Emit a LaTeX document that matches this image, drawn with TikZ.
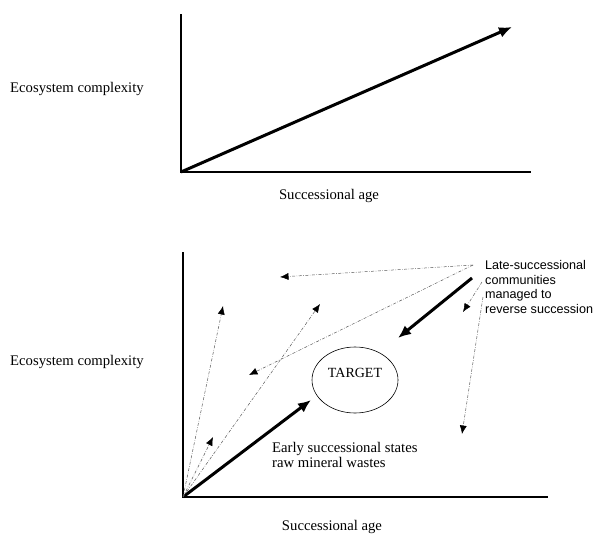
\documentclass[tikz,border=0pt]{standalone}
\usepackage{fontspec}
\setmainfont{Liberation Serif}
\newfontfamily\lsans{Liberation Sans}
\usetikzlibrary{arrows.meta,shapes.geometric}
\tikzset{
  axis/.style={line width=1.6pt, line cap=rect},
  bigarrow/.style={line width=3pt, -{Latex[length=13pt,width=11pt]}},
  thinarrow/.style={line width=0.5pt, draw=black!65, dash pattern=on 3pt off 1.5pt on 0.6pt off 1.5pt,
     -{Latex[length=8.5pt,width=7pt,fill=black,color=black]}},
  lbl/.style={font=\fontsize{14.7}{15}\selectfont, inner sep=0pt},
}
\begin{document}
\begin{tikzpicture}[x=1pt,y=-1pt]
\useasboundingbox (0,0) rectangle (594,533);
% ---------- top panel ----------
\coordinate (o1) at (181,172);
\coordinate (ytop1) at (181,15);
\coordinate (xend1) at (530,172);
\coordinate (tip1) at (512,27);
\draw[axis] (ytop1) -- (o1) -- (xend1);
\draw[bigarrow] (o1) -- (tip1);
\node[lbl, anchor=base west] (ylab1) at (10,92) {Ecosystem complexity};
\node[lbl, anchor=base] (xlab1) at (329,199) {Successional age};
% ---------- bottom panel ----------
\coordinate (o2) at (183,497);
\coordinate (ytop2) at (183,253);
\coordinate (xend2) at (547,497);
\draw[axis] (ytop2) -- (o2) -- (xend2);
\node[lbl, anchor=base west] (ylab2) at (10,365) {Ecosystem complexity};
\node[lbl, anchor=base] (xlab2) at (332,530) {Successional age};
% target
\node[draw, ellipse, line width=0.6pt, minimum width=86pt, minimum height=66pt, inner sep=0pt] (target) at (355,380) {};
\node[font=\fontsize{14}{16}\selectfont, inner sep=0pt] (targetlbl) at ([yshift=7pt]target.center) {TARGET};
% labels
\node[lbl, anchor=base west, align=left] (early) at (272,467) {Early successional states\\raw mineral wastes};
\node[font=\lsans\fontsize{12.6}{14.4}\selectfont, anchor=base west, align=left, inner sep=0pt] (late) at (485,313)
  {Late-successional\\communities\\managed to\\reverse succession};
% thick arrows
\coordinate (e1) at (311,400);
\coordinate (l0) at (472,278);
\coordinate (l1) at (398,338);
\draw[bigarrow] (o2) -- (e1);
\draw[bigarrow] (l0) -- (l1);
% dashed arrows from the late label
\coordinate (s1) at (473,265);
\coordinate (s2) at (482,282);
\coordinate (s3) at (483,297);
\coordinate (a1) at (280,277);
\coordinate (a2) at (249,375);
\coordinate (a3) at (463,312);
\coordinate (a4) at (462,434);
\draw[thinarrow] (s1) -- (a1);
\draw[thinarrow] (s1) -- (a2);
\draw[thinarrow] (s2) -- (a3);
\draw[thinarrow] (s3) -- (a4);
% dashed arrows from the origin
\coordinate (b1) at (223,306);
\coordinate (b2) at (320,304);
\coordinate (b3) at (213,437);
\draw[thinarrow] (o2) -- (b1);
\draw[thinarrow] (o2) -- (b2);
\draw[thinarrow] (o2) -- (b3);
\end{tikzpicture}
\end{document}
